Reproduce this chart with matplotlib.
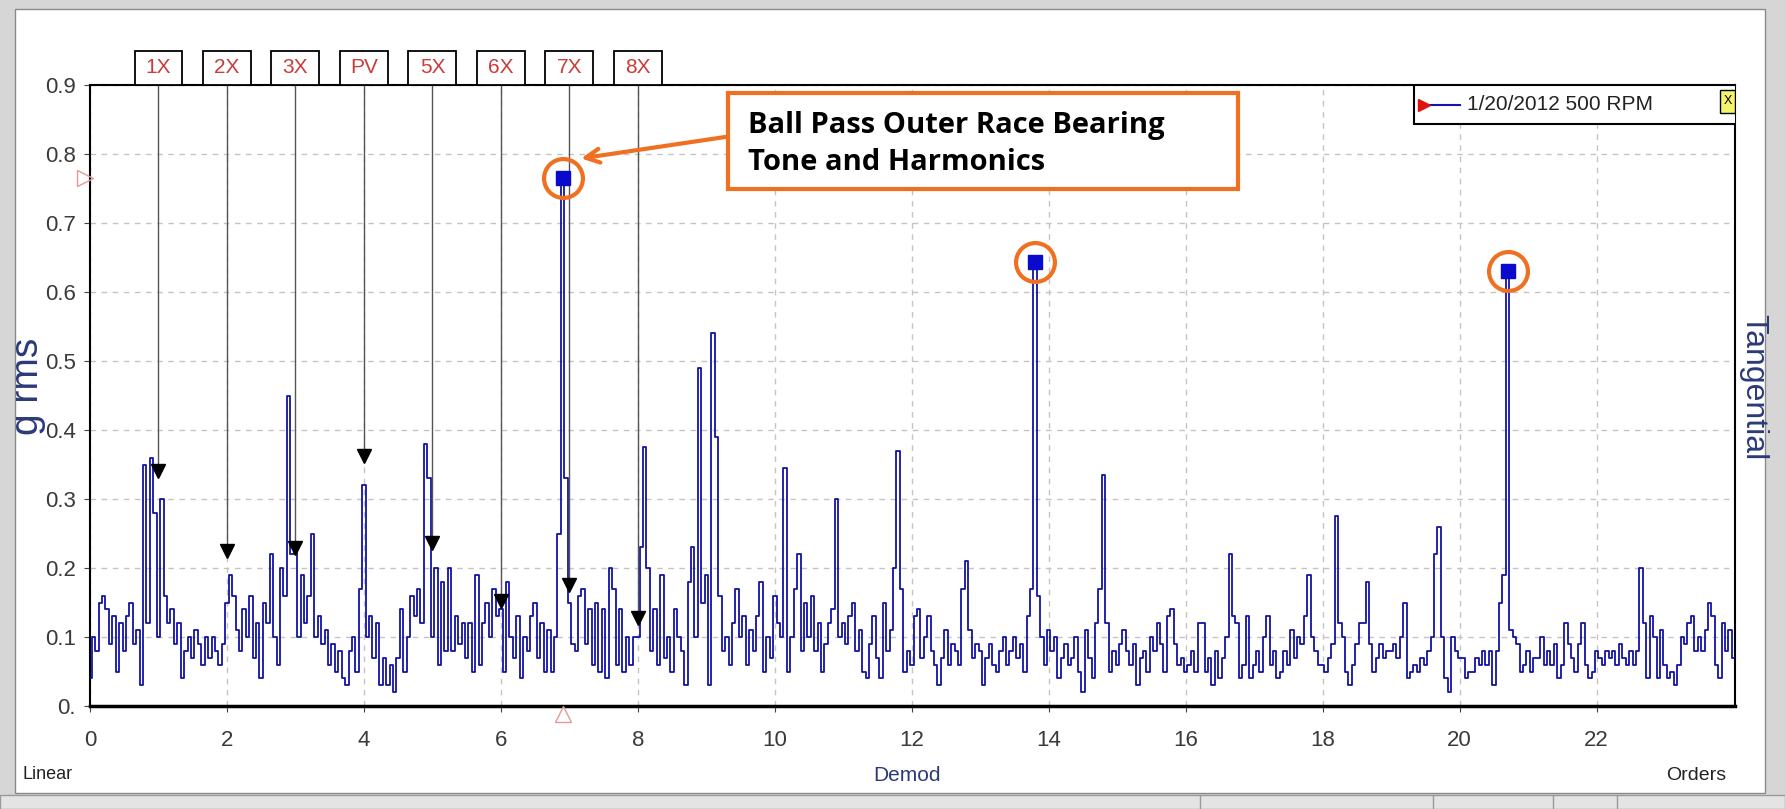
import numpy as np
import matplotlib
matplotlib.use("Agg")
import matplotlib.pyplot as plt
from matplotlib.patches import Rectangle
from matplotlib.transforms import blended_transform_factory

plt.rcParams['font.family'] = ['Liberation Sans', 'DejaVu Sans']

# demodulated spectrum, g rms, one row per order (0.05 order bins)
spec_rows = [
    [0.04, 0.10, 0.08, 0.15, 0.16, 0.14, 0.09, 0.13, 0.05, 0.12, 0.08, 0.13, 0.15, 0.09, 0.11, 0.03, 0.35, 0.12, 0.36, 0.28],
    [0.10, 0.30, 0.16, 0.12, 0.14, 0.09, 0.12, 0.04, 0.08, 0.10, 0.07, 0.11, 0.09, 0.06, 0.10, 0.07, 0.10, 0.08, 0.06, 0.09],
    [0.15, 0.19, 0.16, 0.11, 0.08, 0.14, 0.10, 0.16, 0.07, 0.12, 0.04, 0.15, 0.12, 0.22, 0.10, 0.06, 0.20, 0.16, 0.45, 0.22],
    [0.23, 0.10, 0.19, 0.12, 0.16, 0.25, 0.10, 0.13, 0.09, 0.11, 0.06, 0.09, 0.05, 0.08, 0.04, 0.03, 0.08, 0.10, 0.05, 0.17],
    [0.32, 0.10, 0.13, 0.07, 0.12, 0.03, 0.07, 0.03, 0.06, 0.02, 0.07, 0.14, 0.05, 0.10, 0.16, 0.13, 0.17, 0.12, 0.38, 0.33],
    [0.10, 0.20, 0.06, 0.18, 0.08, 0.20, 0.08, 0.13, 0.09, 0.12, 0.07, 0.12, 0.05, 0.19, 0.06, 0.12, 0.15, 0.10, 0.17, 0.13],
    [0.14, 0.05, 0.18, 0.10, 0.07, 0.13, 0.04, 0.10, 0.08, 0.13, 0.15, 0.07, 0.12, 0.05, 0.11, 0.05, 0.10, 0.25, 0.765, 0.33],
    [0.15, 0.09, 0.08, 0.16, 0.17, 0.09, 0.14, 0.06, 0.15, 0.05, 0.14, 0.04, 0.20, 0.17, 0.06, 0.14, 0.05, 0.10, 0.06, 0.10],
    [0.10, 0.23, 0.375, 0.20, 0.08, 0.14, 0.06, 0.19, 0.07, 0.10, 0.05, 0.14, 0.10, 0.08, 0.03, 0.18, 0.23, 0.10, 0.49, 0.15],
    [0.19, 0.03, 0.54, 0.39, 0.16, 0.08, 0.10, 0.06, 0.12, 0.17, 0.10, 0.13, 0.06, 0.11, 0.08, 0.13, 0.18, 0.05, 0.10, 0.07],
    [0.16, 0.12, 0.10, 0.345, 0.05, 0.10, 0.17, 0.22, 0.08, 0.15, 0.10, 0.16, 0.08, 0.12, 0.05, 0.09, 0.12, 0.14, 0.30, 0.10],
    [0.12, 0.09, 0.13, 0.15, 0.08, 0.11, 0.05, 0.04, 0.09, 0.13, 0.07, 0.04, 0.15, 0.08, 0.11, 0.20, 0.37, 0.17, 0.05, 0.08],
    [0.06, 0.13, 0.14, 0.07, 0.10, 0.13, 0.08, 0.06, 0.03, 0.07, 0.11, 0.06, 0.09, 0.08, 0.06, 0.17, 0.21, 0.11, 0.07, 0.09],
    [0.08, 0.03, 0.07, 0.09, 0.06, 0.05, 0.08, 0.10, 0.06, 0.08, 0.10, 0.07, 0.09, 0.05, 0.13, 0.17, 0.643, 0.16, 0.10, 0.06],
    [0.11, 0.08, 0.10, 0.04, 0.07, 0.09, 0.06, 0.07, 0.10, 0.05, 0.02, 0.11, 0.07, 0.04, 0.12, 0.17, 0.335, 0.12, 0.05, 0.08],
    [0.06, 0.09, 0.11, 0.08, 0.06, 0.09, 0.03, 0.07, 0.08, 0.05, 0.10, 0.08, 0.12, 0.09, 0.05, 0.13, 0.14, 0.09, 0.06, 0.07],
    [0.05, 0.06, 0.08, 0.05, 0.12, 0.12, 0.05, 0.07, 0.03, 0.08, 0.04, 0.07, 0.10, 0.22, 0.13, 0.12, 0.04, 0.06, 0.13, 0.04],
    [0.06, 0.08, 0.05, 0.10, 0.13, 0.06, 0.08, 0.04, 0.05, 0.08, 0.06, 0.11, 0.07, 0.10, 0.09, 0.13, 0.19, 0.10, 0.08, 0.06],
    [0.06, 0.05, 0.07, 0.09, 0.275, 0.12, 0.10, 0.05, 0.03, 0.06, 0.09, 0.12, 0.12, 0.18, 0.09, 0.05, 0.07, 0.09, 0.07, 0.08],
    [0.08, 0.09, 0.07, 0.10, 0.15, 0.04, 0.05, 0.06, 0.05, 0.07, 0.06, 0.08, 0.10, 0.22, 0.26, 0.10, 0.04, 0.02, 0.10, 0.08],
    [0.07, 0.07, 0.04, 0.05, 0.05, 0.07, 0.06, 0.08, 0.06, 0.08, 0.03, 0.08, 0.15, 0.19, 0.63, 0.11, 0.10, 0.09, 0.05, 0.06],
    [0.08, 0.05, 0.07, 0.07, 0.10, 0.06, 0.08, 0.06, 0.09, 0.04, 0.06, 0.12, 0.09, 0.07, 0.05, 0.09, 0.12, 0.06, 0.04, 0.05],
    [0.08, 0.07, 0.06, 0.08, 0.07, 0.08, 0.06, 0.09, 0.07, 0.06, 0.08, 0.06, 0.08, 0.20, 0.12, 0.04, 0.13, 0.10, 0.04, 0.11],
    [0.06, 0.04, 0.05, 0.03, 0.06, 0.10, 0.09, 0.12, 0.13, 0.08, 0.10, 0.08, 0.11, 0.15, 0.13, 0.06, 0.04, 0.12, 0.08, 0.11, 0.07],
]
bin_width = 0.05

# harmonic cursors (1x..8x shaft) and the level their flags sit at
cursor_labels = ['1X', '2X', '3X', 'PV', '5X', '6X', '7X', '8X']
cursor_orders = [1, 2, 3, 4, 5, 6, 7, 8]
cursor_levels = [0.34, 0.224, 0.229, 0.363, 0.236, 0.152, 0.175, 0.127]

# ball pass outer race tone and its harmonics
bpfo_orders = [6.90, 13.80, 20.70]

spectrum = np.concatenate([np.array(r) for r in spec_rows])
orders = np.arange(len(spectrum)) * bin_width
bpfo_vals = [spectrum[int(round(o / bin_width))] for o in bpfo_orders]

fig = plt.figure(figsize=(17.85, 8.09), dpi=100, facecolor='#d6d6d6')
# white chart panel and status bar
fig.patches.append(Rectangle((15 / 1785, 16 / 809), 1750 / 1785, 784 / 809, zorder=-10,
                             transform=fig.transFigure, facecolor='white', edgecolor='#8a8a8a', lw=1))
fig.patches.append(Rectangle((0, 0), 1, 14 / 809, transform=fig.transFigure, zorder=-10,
                             facecolor='#e4e4e4', edgecolor='#9a9a9a', lw=1))
for xd in [1200, 1433, 1553, 1617]:
    fig.add_artist(plt.Line2D([xd / 1785, xd / 1785], [0, 14 / 809], color='#9a9a9a', lw=1))

ax = fig.add_axes([90 / 1785, 103 / 809, 1645 / 1785, 621 / 809])
ax.plot(orders, spectrum, color='#1212a6', lw=1.3, drawstyle='steps-mid', zorder=3)

ax.set_xlim(0, 24.02)
ax.set_ylim(0, 0.9)
ax.set_xticks(np.arange(0, 23, 2))
ax.set_yticks(np.arange(0, 0.91, 0.1))
ax.set_yticklabels(['0.'] + ['%.1f' % v for v in np.arange(0.1, 0.91, 0.1)])
ax.tick_params(axis='both', labelsize=16, labelcolor='#3a3a3a', length=4, color='#444444')
ax.tick_params(axis='x', pad=13)
ax.tick_params(axis='y', pad=6)
ax.grid(True, color='#c4c4c4', lw=1, ls=(0, (4, 4)))
for s in ax.spines.values():
    s.set_color('black')
    s.set_linewidth(1.5)
ax.spines['bottom'].set_linewidth(2.5)

# cursor flags above the plot
tr = blended_transform_factory(ax.transData, ax.transAxes)
for lab, o, lev in zip(cursor_labels, cursor_orders, cursor_levels):
    ax.add_patch(Rectangle((o - 0.35, 1.0), 0.70, 0.055, transform=tr, facecolor='white',
                           edgecolor='black', lw=1.3, clip_on=False, zorder=5))
    ax.text(o, 1.0275, lab, transform=tr, ha='center', va='center', fontsize=15,
            color='#cc3a3a', clip_on=False, zorder=6)
    ax.plot([o, o], [lev, 0.9], color='#555555', lw=1.0, zorder=4)
    ax.plot(o, lev, marker='v', color='black', ms=10, zorder=6)

# peak markers with highlight rings
ax.plot(bpfo_orders, bpfo_vals, ls='none', marker='s', ms=10, color='#0a0acc', zorder=7)
ax.plot(bpfo_orders, bpfo_vals, ls='none', marker='o', ms=28, mfc='none', mec='#f07022', mew=3,
        zorder=8, clip_on=False)

# reference cursor triangles on the axes
ax.plot(-0.07, bpfo_vals[0], marker='>', ms=12, mfc='none', mec='#e39a9a', clip_on=False, zorder=6)
ax.plot(bpfo_orders[0], -0.012, marker='^', ms=12, mfc='none', mec='#e39a9a', clip_on=False, zorder=6)

# callout
ax.add_patch(Rectangle((0.388, 0.833), 0.310, 0.154, transform=ax.transAxes, facecolor='white',
                       edgecolor='#f07022', lw=3, zorder=9))
ax.text(0.400, 0.905, 'Ball Pass Outer Race Bearing\nTone and Harmonics', transform=ax.transAxes,
        ha='left', va='center', fontsize=21, fontweight='bold', family='Open Sans',
        linespacing=1.38, zorder=10)
ax.annotate('', xy=(7.13, 0.793), xytext=(0.388, 0.917), textcoords='axes fraction',
            arrowprops=dict(arrowstyle='->', color='#f07022', lw=3, mutation_scale=25), zorder=9)

# legend box
ax.add_patch(Rectangle((0.805, 0.938), 0.196, 0.062, transform=ax.transAxes, facecolor='white',
                       edgecolor='black', lw=1.5, zorder=9))
ax.plot([0.813, 0.833], [0.968, 0.968], transform=ax.transAxes, color='#1414a8', lw=1.5, zorder=10)
ax.plot(0.811, 0.968, transform=ax.transAxes, marker='>', color='#dd1111', ms=8, zorder=10)
ax.text(0.837, 0.968, '1/20/2012 500 RPM', transform=ax.transAxes, ha='left', va='center',
        fontsize=15, color='#222222', zorder=10)
ax.add_patch(Rectangle((0.991, 0.955), 0.009, 0.037, transform=ax.transAxes, facecolor='#f4f46a',
                       edgecolor='black', lw=1, zorder=10))
ax.text(0.9955, 0.9735, 'X', transform=ax.transAxes, ha='center', va='center', fontsize=9, zorder=11)

fig.text(28 / 1785, 0.522, 'g rms', rotation=90, ha='center', va='center', fontsize=28, color='#2b3a78')
fig.text(1753 / 1785, 0.522, 'Tangential', rotation=-90, ha='center', va='center', fontsize=23,
         color='#2b3a78')
fig.text(48 / 1785, 0.043, 'Linear', ha='center', va='center', fontsize=13, color='#222222')
fig.text(907 / 1785, 0.041, 'Demod', ha='center', va='center', fontsize=15, color='#2b3a78')
fig.text(1696 / 1785, 0.041, 'Orders', ha='center', va='center', fontsize=14, color='#222222')

fig.savefig('out.png', dpi=100, facecolor=fig.get_facecolor())
